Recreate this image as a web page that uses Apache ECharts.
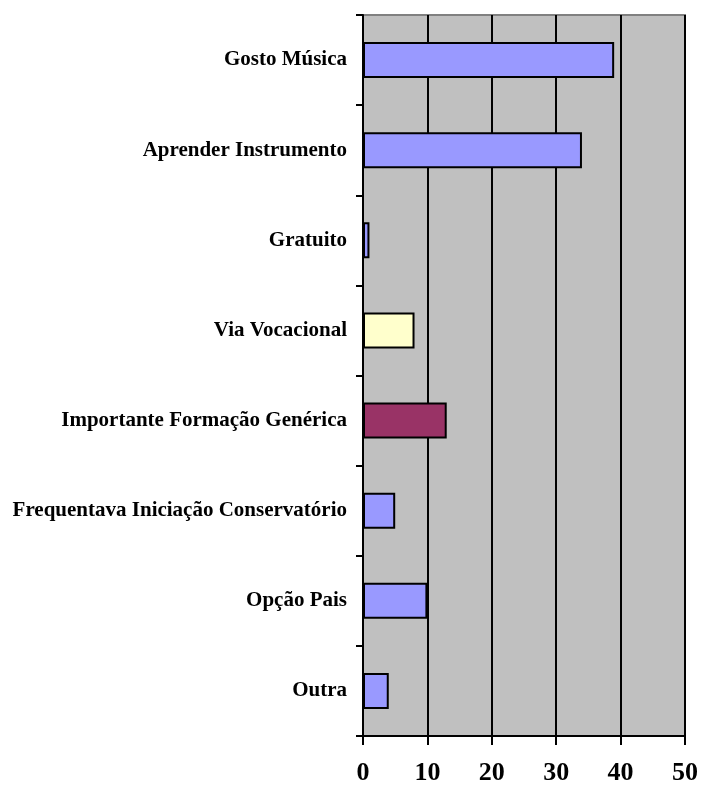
<!DOCTYPE html>
<html>
<head>
<meta charset="utf-8">
<script src="https://cdn.jsdelivr.net/npm/echarts@6/dist/echarts.min.js"></script>
<style>html,body{margin:0;padding:0;background:#fff}#c{width:701px;height:787px}</style>
</head>
<body>
<div id="c"></div>
<script>
const categories = ["Gosto Música","Aprender Instrumento","Gratuito","Via Vocacional","Importante Formação Genérica","Frequentava Iniciação Conservatório","Opção Pais","Outra"];
const values = [39,34,1,8,13,5,10,4];
const barColors = ["#9999ff","#9999ff","#9999ff","#ffffcc","#993366","#9999ff","#9999ff","#9999ff"];
const xTicks = [0,10,20,30,40,50];

const chart = echarts.init(document.getElementById('c'));
chart.setOption({
  animation:false,
  grid:{left:363,right:16,top:15,bottom:51,show:true,backgroundColor:'#c0c0c0',borderColor:'#808080',borderWidth:2},
  xAxis:{type:'value',min:xTicks[0],max:xTicks[xTicks.length-1],interval:10,
    axisLine:{show:true,lineStyle:{color:'#000',width:2}},
    axisTick:{show:true,length:9,lineStyle:{color:'#000',width:2}},
    axisLabel:{color:'#000',fontFamily:'Liberation Serif',fontWeight:'bold',fontSize:26,margin:24},
    splitLine:{show:true,lineStyle:{color:'#000',width:2}}},
  yAxis:{type:'category',data:categories,inverse:true,
    axisLine:{show:true,lineStyle:{color:'#000',width:2}},
    axisTick:{show:true,length:7,lineStyle:{color:'#000',width:2}},
    axisLabel:{color:'#000',fontFamily:'Liberation Serif',fontWeight:'bold',fontSize:21,margin:16}},
  series:[{type:'bar',data:values.map((v,i)=>({value:v,itemStyle:{color:barColors[i]}})),
    barCategoryGap:'60%',itemStyle:{borderColor:'#000',borderWidth:2}}]
});
</script>
</body>
</html>
